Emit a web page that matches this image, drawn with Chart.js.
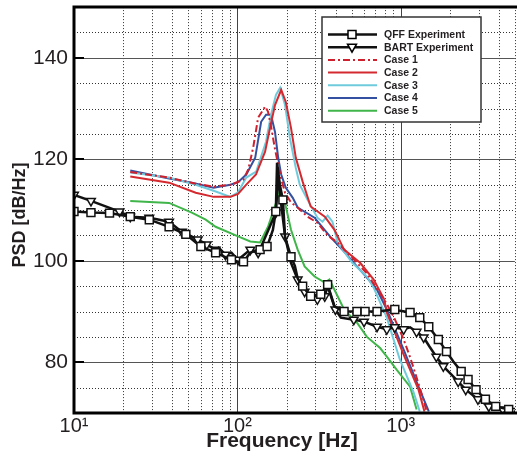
<!DOCTYPE html>
<html>
<head>
<meta charset="utf-8">
<script src="https://cdn.jsdelivr.net/npm/chart.js@4.4.1/dist/chart.umd.min.js"></script>
<style>
  html, body { margin: 0; padding: 0; background: #fff; overflow: hidden; }
  #wrap { width: 522px; height: 455px; }
</style>
</head>
<body>
<div id="wrap"><canvas id="psdChart" width="522" height="455"></canvas></div>
<script>
// tick labels
const xTickValues = [10, 100, 1000];
const xTickLabels = ['10\u00B9', '10\u00B2', '10\u00B3'];
const yTickValues = [80, 100, 120, 140];

// QFF experiment
const qffFreq = [10, 12.7, 16.5, 22.1, 28.9, 38.2, 48.4, 59.8, 73.6, 92, 101, 109, 120, 137.8, 152, 165, 172, 175, 182, 190, 196, 213, 225, 234, 251, 281, 324, 357, 393, 450, 540, 605, 716, 920, 972, 1141, 1308, 1485, 1700, 1906, 2094, 2345, 2584, 2890, 3300, 3817, 4580];
const qffPsd  = [109.7, 109.5, 109.4, 108.7, 108.1, 106.7, 105.2, 102.8, 101.6, 100.2, 99.8, 99.8, 101.6, 102.2, 102.8, 106.1, 109.7, 119.3, 115, 112, 104.6, 100.8, 99, 96.5, 95, 93, 93.4, 95.3, 91, 90, 90, 90, 90, 90.4, 90.2, 89.8, 88.8, 87, 84.5, 82.1, 80.2, 78.2, 76.6, 74.6, 72.7, 71.3, 70.7];

// BART experiment
const bartFreq = [10, 12.7, 19, 22.1, 28.9, 38.2, 45.8, 57.2, 64.9, 73.6, 76.8, 84.5, 92, 101, 120, 134, 140, 172, 178, 185, 196, 213, 234, 258, 309, 343, 357, 398, 430, 516, 596, 716, 822, 920, 1042, 1141, 1251, 1381, 1499, 1652, 1824, 1982, 2248, 2500, 2970, 3460, 4210, 4800];
const bartPsd  = [113, 111.8, 109.7, 108.7, 108.5, 107.7, 105.7, 104.2, 103.2, 102.2, 102.6, 101.2, 101.6, 100.2, 102.2, 101.6, 102.8, 109.5, 117, 111.4, 104.8, 99.6, 96.3, 93.9, 92.4, 93, 95, 90.4, 88.8, 88.4, 88, 87, 86.5, 86.9, 86.5, 86.9, 86, 84.9, 83.1, 81.1, 79.2, 78, 76.2, 74.6, 72.7, 71.3, 70.7, 70.4];

// Case 1
const case1Freq = [22.1, 38, 55.6, 71.6, 92, 108.8, 116.6, 125, 134, 148, 154, 160.7, 170, 177.8, 186, 196, 213, 234, 269, 309, 357, 411, 470, 540, 621, 716, 822, 920, 1042, 1141, 1251, 1381, 1442];
const case1Psd  = [117.5, 116.4, 115.2, 114.6, 115, 116, 118, 122.3, 128.2, 130.4, 129.4, 126.5, 122, 119, 116, 113.4, 111.5, 110.5, 108.7, 107.5, 105, 103.6, 101.6, 99.6, 97.5, 94.5, 91.5, 88.5, 84.5, 81, 77, 72.5, 70.3];

// Case 2
const case2Freq = [22.1, 38.2, 55.6, 71.6, 90.7, 101, 113.4, 130, 147.8, 158.5, 170, 185.5, 198, 213, 228, 251, 281, 343, 393, 450, 564, 683, 792, 822, 1042, 1285, 1397];
const case2Psd  = [116.6, 115.4, 113.4, 112.6, 112.6, 113.2, 115, 117, 121.5, 126.2, 130.7, 133.7, 131.3, 126.2, 120.3, 115.6, 110.7, 108.7, 106.1, 102.2, 99.6, 96.3, 92.4, 89.8, 81.5, 74.6, 70.3];

// Case 3
const case3Freq = [22.1, 38.2, 55.6, 71.6, 90.7, 101, 113.4, 130.4, 149.9, 160.7, 172.3, 182.7, 195.8, 209.5, 228, 241, 269, 309, 332, 357, 382, 411, 505, 621, 683, 822, 986, 1201, 1308];
const case3Psd  = [117.4, 116.4, 115, 113.8, 112.6, 113.5, 116.4, 117.6, 123.5, 128.8, 132.7, 134.1, 130.7, 124.3, 118.3, 115, 112, 108.5, 107.7, 108.9, 107.7, 103.6, 99.6, 96.9, 94.7, 88.8, 80.6, 74, 70.3];

// Case 4
const case4Freq = [22.1, 38.2, 52.6, 71.6, 90.7, 101, 113.4, 128.6, 139.8, 149.9, 160.7, 170, 177.8, 185.5, 198, 218.4, 234, 297, 373, 450, 516, 621, 716, 822, 1042, 1308, 1485];
const case4Psd  = [117.8, 116.2, 115.4, 114.4, 115, 115.5, 117, 120.3, 127.4, 128.8, 128.8, 125.4, 120.3, 117, 114.4, 112.4, 110.5, 108.5, 104.6, 101.8, 99.6, 96.7, 94.3, 90.4, 82.5, 74.6, 70.3];

// Case 5
const case5Freq = [22.1, 38.2, 52.6, 64, 73.6, 101, 120, 137.8, 154, 172.3, 182.7, 195.8, 213, 234, 258, 297, 343, 366, 393, 450, 540, 621, 748, 822, 946, 1141, 1251];
const case5Psd  = [111.8, 111.4, 109.5, 108.1, 106.7, 104.8, 103.8, 103.6, 106.7, 111.4, 114, 111.4, 106.1, 102.2, 98.9, 96.9, 95.7, 96.3, 94.3, 90.4, 87.8, 85, 82.8, 81.1, 78.5, 75.2, 70.7];

const FONT = "'Liberation Sans', Arial, Helvetica, sans-serif";
const TEXT = '#231f20';

function pts(fs, vs) {
    return fs.map((f, i) => ({ x: f, y: vs[i] }));
}

// keep markers apart: skip a marker closer than minDec decades to the last one
function markerRadius(fs, r, minDec) {
    const show = [];
    let last = -Infinity;
    fs.forEach(f => {
        const lf = Math.log10(f);
        if (lf - last >= minDec) {
            show.push(r);
            last = lf;
        } else {
            show.push(0);
        }
    });
    return show;
}

// grid, frame, axis titles and legend
const decorations = {
    id: 'decorations',
    beforeDatasetsDraw(chart) {
        const { ctx, chartArea: a, scales: { x, y } } = chart;
        ctx.save();
        ctx.lineWidth = 1;
        // vertical grid
        for (let d = 10; d <= 1000; d *= 10) {
            for (let k = 1; k <= 9; k++) {
                const f = k * d;
                if (f <= 10 || f > 5000) continue;
                const px = Math.round(x.getPixelForValue(f)) + 0.5;
                ctx.beginPath();
                if (k === 1) {
                    ctx.setLineDash([]);
                    ctx.strokeStyle = '#444';
                } else {
                    ctx.setLineDash([1, 2]);
                    ctx.strokeStyle = '#333';
                }
                ctx.moveTo(px, a.top);
                ctx.lineTo(px, a.bottom);
                ctx.stroke();
            }
        }
        // horizontal grid
        for (let v = 75; v < 150; v += 5) {
            const py = Math.round(y.getPixelForValue(v)) + 0.5;
            ctx.beginPath();
            if (v % 20 === 0) {
                ctx.setLineDash([]);
                ctx.strokeStyle = '#555';
            } else {
                ctx.setLineDash([1, 2]);
                ctx.strokeStyle = '#333';
            }
            ctx.moveTo(a.left, py);
            ctx.lineTo(a.right, py);
            ctx.stroke();
        }
        ctx.restore();
    },
    afterDraw(chart) {
        const { ctx, chartArea: a, scales: { y } } = chart;
        ctx.save();
        // frame
        ctx.strokeStyle = '#000';
        ctx.lineWidth = 3;
        ctx.beginPath();
        ctx.moveTo(a.right + 5, a.top);
        ctx.lineTo(a.left, a.top);
        ctx.lineTo(a.left, a.bottom);
        ctx.lineTo(a.right + 5, a.bottom);
        ctx.stroke();
        // inner y ticks
        ctx.lineWidth = 2;
        yTickValues.forEach(v => {
            const py = Math.round(y.getPixelForValue(v));
            ctx.beginPath();
            ctx.moveTo(a.left, py);
            ctx.lineTo(a.left + 10, py);
            ctx.stroke();
        });

        // axis titles
        ctx.fillStyle = TEXT;
        ctx.font = 'bold 21px ' + FONT;
        ctx.textAlign = 'center';
        ctx.textBaseline = 'alphabetic';
        ctx.fillText('Frequency [Hz]', 282, 447);
        ctx.translate(25, 215);
        ctx.rotate(-Math.PI / 2);
        ctx.font = 'bold 18px ' + FONT;
        ctx.fillText('PSD [dB/Hz]', 0, 0);
        ctx.setTransform(1, 0, 0, 1, 0, 0);

        // legend
        const bx = 322, by = 17, bw = 159, bh = 105;
        ctx.fillStyle = '#fff';
        ctx.fillRect(bx, by, bw, bh);
        ctx.strokeStyle = '#333';
        ctx.lineWidth = 1.5;
        ctx.strokeRect(bx, by, bw, bh);
        ctx.font = 'bold 10.5px ' + FONT;
        ctx.textAlign = 'left';
        ctx.textBaseline = 'middle';
        chart.data.datasets.forEach((ds, i) => {
            const ry = by + 17.5 + i * 12.7;
            ctx.strokeStyle = ds.borderColor;
            ctx.lineWidth = ds.borderWidth;
            ctx.setLineDash(ds.borderDash || []);
            ctx.beginPath();
            ctx.moveTo(bx + 6, ry);
            ctx.lineTo(bx + 55, ry);
            ctx.stroke();
            ctx.setLineDash([]);
            if (ds.pointStyle) {
                ctx.fillStyle = '#fff';
                ctx.strokeStyle = '#000';
                ctx.lineWidth = ds.pointBorderWidth;
                ctx.beginPath();
                if (ds.pointStyle === 'rect') {
                    ctx.rect(bx + 26, ry - 4, 8, 8);
                } else {
                    ctx.moveTo(bx + 25.5, ry - 3);
                    ctx.lineTo(bx + 34.5, ry - 3);
                    ctx.lineTo(bx + 30, ry + 5);
                    ctx.closePath();
                }
                ctx.fill();
                ctx.stroke();
            }
            ctx.fillStyle = TEXT;
            ctx.fillText(ds.label, bx + 62, ry + 0.5);
        });
        ctx.restore();
    }
};

const lineDefaults = {
    tension: 0,
    fill: false,
    pointHoverRadius: 0
};

new Chart(document.getElementById('psdChart').getContext('2d'), {
    type: 'line',
    data: {
        datasets: [{
            ...lineDefaults,
            label: 'QFF Experiment',
            data: pts(qffFreq, qffPsd),
            borderColor: '#111',
            borderWidth: 2.5,
            pointStyle: 'rect',
            pointRadius: markerRadius(qffFreq, 5.6, 0.042),
            pointBorderWidth: 1.5,
            pointBorderColor: '#111',
            pointBackgroundColor: '#fff'
        }, {
            ...lineDefaults,
            label: 'BART Experiment',
            data: pts(bartFreq, bartPsd),
            borderColor: '#111',
            borderWidth: 2.5,
            pointStyle: 'triangle',
            pointRotation: 180,
            pointRadius: markerRadius(bartFreq, 5, 0.042),
            pointBorderWidth: 1.5,
            pointBorderColor: '#111',
            pointBackgroundColor: '#fff'
        }, {
            ...lineDefaults,
            label: 'Case 1',
            data: pts(case1Freq, case1Psd),
            borderColor: '#d0202e',
            borderWidth: 2,
            borderDash: [7, 3, 2, 3],
            pointRadius: 0
        }, {
            ...lineDefaults,
            label: 'Case 2',
            data: pts(case2Freq, case2Psd),
            borderColor: '#d42a2f',
            borderWidth: 2,
            pointRadius: 0
        }, {
            ...lineDefaults,
            label: 'Case 3',
            data: pts(case3Freq, case3Psd),
            borderColor: '#6fcbdc',
            borderWidth: 2,
            pointRadius: 0
        }, {
            ...lineDefaults,
            label: 'Case 4',
            data: pts(case4Freq, case4Psd),
            borderColor: '#3450a0',
            borderWidth: 2,
            pointRadius: 0
        }, {
            ...lineDefaults,
            label: 'Case 5',
            data: pts(case5Freq, case5Psd),
            borderColor: '#40b54a',
            borderWidth: 2,
            pointRadius: 0
        }]
    },
    options: {
        responsive: false,
        animation: false,
        devicePixelRatio: 1,
        layout: { padding: { top: 7, right: 3, left: 0, bottom: 0 } },
        plugins: {
            legend: { display: false },
            tooltip: { enabled: false }
        },
        scales: {
            x: {
                type: 'logarithmic',
                min: 10,
                max: 5000,
                grid: { display: false, drawTicks: false },
                border: { display: false },
                afterBuildTicks: function(scale) {
                    scale.ticks = xTickValues.map(v => ({ value: v }));
                },
                afterFit: function(scale) {
                    scale.height = 42;
                    scale.paddingLeft = 0;
                    scale.paddingRight = 0;
                },
                ticks: {
                    autoSkip: false,
                    maxRotation: 0,
                    padding: 1,
                    color: TEXT,
                    font: { family: FONT, size: 20 },
                    callback: function(value, index) {
                        return xTickLabels[index];
                    }
                }
            },
            y: {
                min: 70,
                max: 150,
                grid: { display: false, drawTicks: false },
                border: { display: false },
                afterBuildTicks: function(scale) {
                    scale.ticks = yTickValues.map(v => ({ value: v }));
                },
                afterFit: function(scale) {
                    scale.width = 74;
                    scale.paddingTop = 0;
                    scale.paddingBottom = 0;
                },
                ticks: {
                    autoSkip: false,
                    padding: 6,
                    color: TEXT,
                    font: { family: FONT, size: 21 }
                }
            }
        }
    },
    plugins: [decorations]
});
</script>
</body>
</html>
